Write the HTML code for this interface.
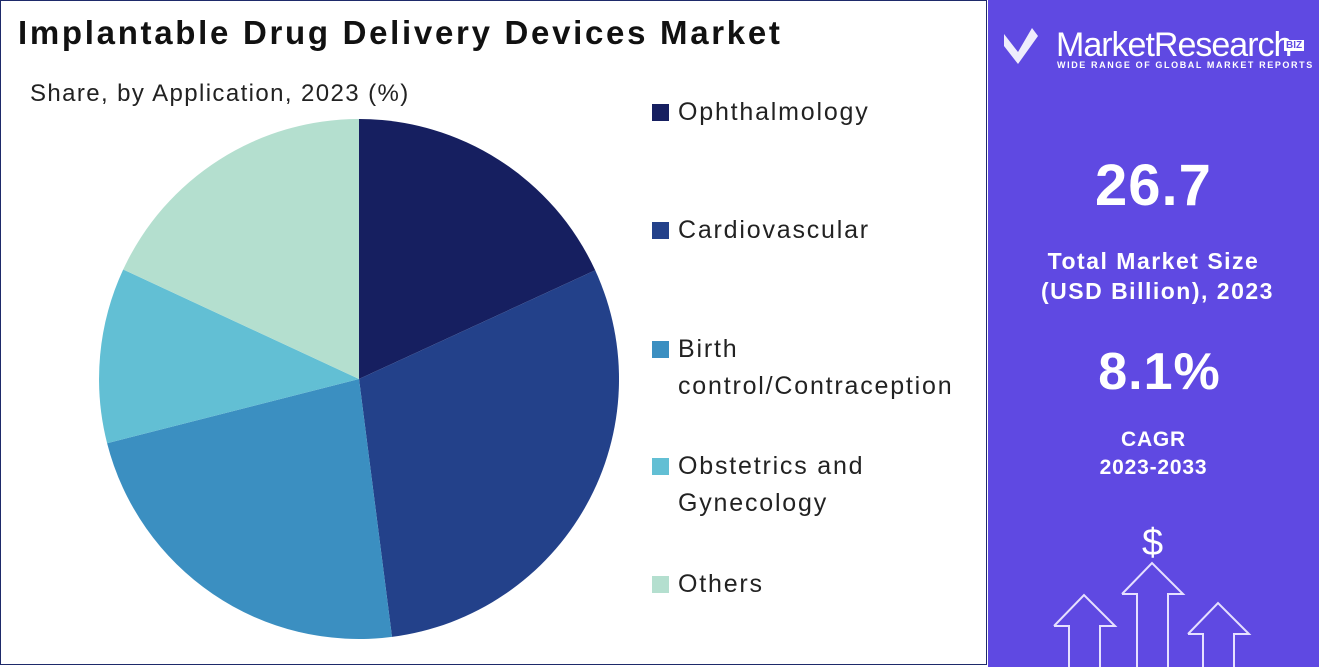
<!DOCTYPE html>
<html><head><meta charset="utf-8"><style>
body{margin:0;width:1319px;height:667px;overflow:hidden;background:#fff;font-family:"Liberation Sans",sans-serif}
.frame{position:absolute;left:0;top:0;width:987px;height:665px;border:1px solid #1e2a6a;box-sizing:border-box}
.t{position:absolute;white-space:nowrap}
.leg{position:absolute;left:652px;font-size:25px;color:#222;line-height:37px;letter-spacing:1.8px}
.sw{position:absolute;left:-0px;width:17px;height:17px}
</style></head><body>
<div class="frame"></div>
<div class="t" style="left:18px;top:14px;font-size:33px;font-weight:bold;color:#111;letter-spacing:2.7px">Implantable Drug Delivery Devices Market</div>
<div class="t" style="left:30px;top:80px;font-size:24px;color:#222;letter-spacing:1.4px">Share, by Application, 2023 (%)</div>
<svg style="position:absolute;left:0;top:0" width="987" height="667">
<path d="M359 379 L359 119 A260 260 0 0 1 595.2 270.3Z" fill="#161f60"/>
<path d="M359 379 L595.2 270.3 A260 260 0 0 1 392 636.9Z" fill="#23418a"/>
<path d="M359 379 L392 636.9 A260 260 0 0 1 107.1 443.2Z" fill="#3b8fc1"/>
<path d="M359 379 L107.1 443.2 A260 260 0 0 1 123.2 269.5Z" fill="#62bfd4"/>
<path d="M359 379 L123.2 269.5 A260 260 0 0 1 359 119Z" fill="#b4dfcf"/>
</svg>
<div class="sw" style="left:652px;top:104px;background:#161f60"></div>
<div class="leg" style="left:678px;top:94px">Ophthalmology</div>
<div class="sw" style="left:652px;top:222px;background:#23418a"></div>
<div class="leg" style="left:678px;top:212px">Cardiovascular</div>
<div class="sw" style="left:652px;top:341px;background:#3b8fc1"></div>
<div class="leg" style="left:678px;top:331px">Birth<br>control/Contraception</div>
<div class="sw" style="left:652px;top:458px;background:#62bfd4"></div>
<div class="leg" style="left:678px;top:448px">Obstetrics and<br>Gynecology</div>
<div class="sw" style="left:652px;top:576px;background:#b4dfcf"></div>
<div class="leg" style="left:678px;top:566px">Others</div>
<div style="position:absolute;left:988px;top:0;width:331px;height:667px;background:#5f49e2"></div>
<svg style="position:absolute;left:988px;top:0" width="331" height="667">
<path d="M16 34 L30 52 L44 28 L50 36 L30 64 L16 46Z" fill="#fff" opacity="0.9"/>
<path d="M134 594 L164 563 L195 594 L180 594 L180 667 M149 667 L149 594 L134 594" fill="none" stroke="#e6e0ff" stroke-width="2"/>
<path d="M66 626 L96 595 L127 626 L112 626 L112 667 M81 667 L81 626 L66 626" fill="none" stroke="#e6e0ff" stroke-width="2"/>
<path d="M200 634 L230 603 L261 634 L246 634 L246 667 M215 667 L215 634 L200 634" fill="none" stroke="#e6e0ff" stroke-width="2"/>
</svg>
<div class="t" style="left:1056px;top:26px;font-size:34px;color:#fff;letter-spacing:-1px">MarketResearch</div>
<div class="t" style="left:1284px;top:40px;font-size:10px;color:#5f49e2;background:#fff;padding:0 2px;font-weight:bold">BIZ</div>
<div class="t" style="left:1057px;top:60px;font-size:9px;color:#fff;font-weight:bold;letter-spacing:1.6px">WIDE RANGE OF GLOBAL MARKET REPORTS</div>
<div class="t" style="left:988px;width:331px;text-align:center;top:152px;font-size:58px;font-weight:bold;color:#fff;letter-spacing:1px">26.7</div>
<div class="t" style="left:988px;width:331px;text-align:center;top:246px;font-size:23px;font-weight:bold;color:#fff;line-height:30px;letter-spacing:1.5px">Total Market Size<br>&nbsp;(USD Billion), 2023</div>
<div class="t" style="left:994px;width:331px;text-align:center;top:342px;font-size:52px;font-weight:bold;color:#fff;letter-spacing:1px">8.1%</div>
<div class="t" style="left:988px;width:331px;text-align:center;top:426px;font-size:21px;font-weight:bold;color:#fff;line-height:28px;letter-spacing:0.8px">CAGR<br>2023-2033</div>
<div class="t" style="left:1142px;top:522px;font-size:38px;color:#fff">$</div>
</body></html>
